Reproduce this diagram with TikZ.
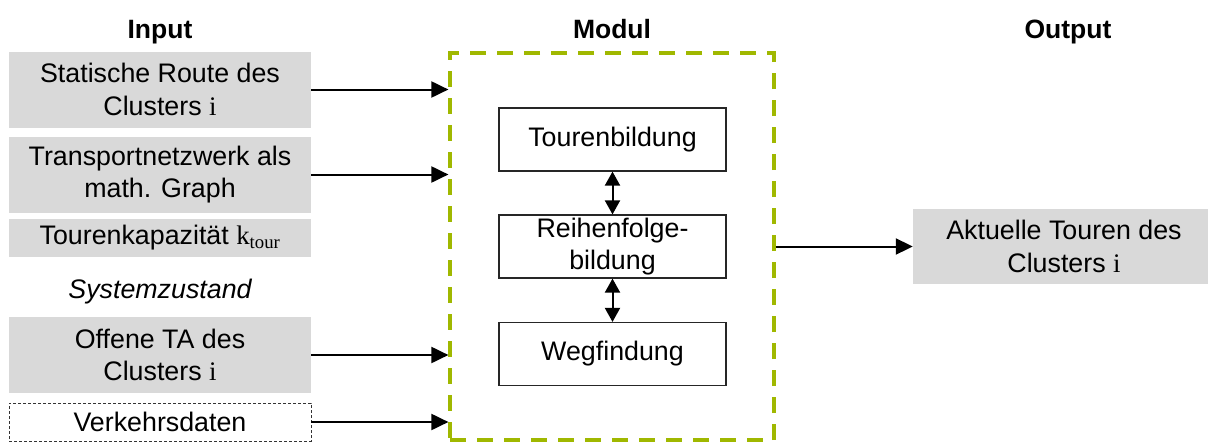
\documentclass[tikz,border=0pt]{standalone}
\usepackage{fontspec}
\setmainfont{Liberation Sans}
\newfontfamily\serifmath{Liberation Serif}
\usetikzlibrary{arrows.meta}
\definecolor{boxgray}{HTML}{D9D9D9}
\definecolor{modgreen}{RGB}{160,184,0}
\newcommand{\ci}{{\serifmath i}}
\begin{document}
\begin{tikzpicture}[x=1pt,y=-1pt,
  txt/.style={font=\fontsize{26.8}{32.5}\selectfont, align=center, inner sep=0pt},
  head/.style={font=\fontsize{26.5}{30}\selectfont\bfseries, inner sep=0pt, anchor=base},
  inbox/.style={txt, fill=boxgray, minimum width=302pt},
  dbox/.style={txt, draw=black!80, dash pattern=on 3pt off 2pt, line width=0.8pt, minimum width=302pt, minimum height=38pt},
  stepbox/.style={txt, draw=black!85, line width=1.2pt, minimum width=227pt, minimum height=63pt},
  modbox/.style={draw=modgreen, line width=3.2pt, dash pattern=on 16pt off 11pt, minimum width=324pt, minimum height=387pt, inner sep=0pt},
  arr/.style={line width=2pt, -{Triangle[length=17pt, width=16pt]}},
  darr/.style={line width=2pt, {Triangle[length=14pt, width=15pt]}-{Triangle[length=14pt, width=15pt]}}
]
\useasboundingbox (0,0) rectangle (1208,442);

% column headings
\node[head] (hIn)  at (160,38)  {Input};
\node[head] (hMod) at (612,38)  {Modul};
\node[head] (hOut) at (1068,38) {Output};

% input column
\node[inbox, minimum height=76pt] (in1) at (160,89.5)  {Statische Route des\\Clusters \ci};
\node[inbox, minimum height=76pt] (in2) at (160,174.5) {Transportnetzwerk als\\math. Graph};
\node[inbox, minimum height=38pt] (in3) at (160,238)   {Tourenkapazität {\serifmath k\textsubscript{tour}}};
\node[txt, font=\fontsize{26.8}{32}\selectfont\itshape] (sys) at (160,292) {Systemzustand};
\node[inbox, minimum height=76pt] (in4) at (160,355)   {Offene TA des\\Clusters \ci};
\node[dbox] (in5) at (160,422) {Verkehrsdaten};

% module frame and its steps
\node[modbox] (mod) at (612,246.5) {};
\node[stepbox] (tb) at (612.5,139.5) {Tourenbildung};
\node[stepbox] (rf) at (612.5,246.5) {Reihenfolge-\\bildung};
\node[stepbox] (wf) at (612.5,354)   {Wegfindung};

% output
\node[inbox, minimum height=75pt] (out) at (1064,246.5) {Aktuelle Touren des\\Clusters \ci};

% connectors
\draw[arr] (in1.east) -- (in1.east -| mod.west);
\draw[arr] (in2.east) -- (in2.east -| mod.west);
\draw[arr] (in4.east) -- (in4.east -| mod.west);
\draw[arr] (in5.east) -- (in5.east -| mod.west);
\draw[darr] (tb.south) -- (rf.north);
\draw[darr] (rf.south) -- (wf.north);
\draw[arr] (out.west -| mod.east) -- (out.west);
\end{tikzpicture}
\end{document}
